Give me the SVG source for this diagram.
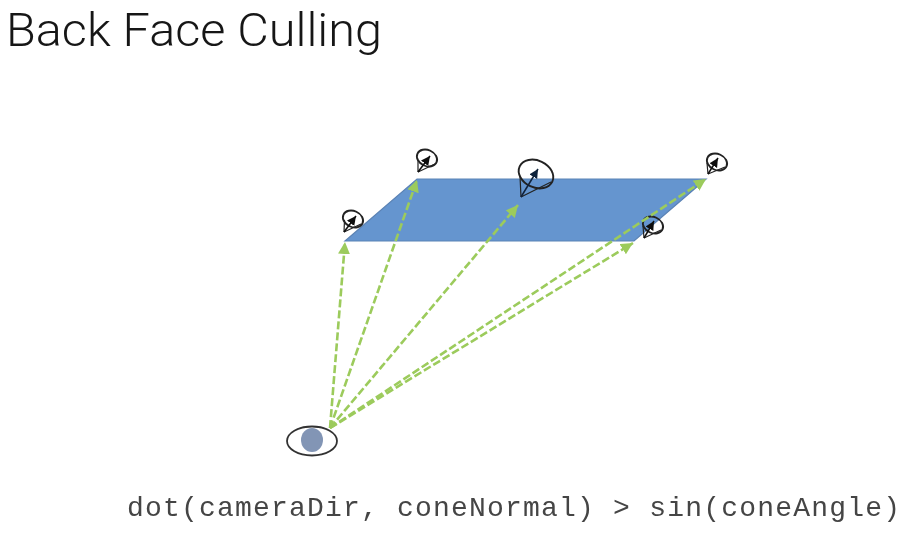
<svg xmlns="http://www.w3.org/2000/svg" width="916" height="545" viewBox="0 0 916 545">
<defs>
<filter id="soft" x="-5%" y="-5%" width="110%" height="110%"><feGaussianBlur stdDeviation="0.55"/></filter>
<marker id="g" markerUnits="userSpaceOnUse" markerWidth="14" markerHeight="14" refX="12" refY="6" orient="auto"><path d="M0 0L12 6L0 12Z" fill="#9ccb5c"/></marker>
<marker id="k" markerUnits="userSpaceOnUse" markerWidth="11" markerHeight="11" refX="9" refY="4.500" orient="auto"><path d="M0 0L9 4.500L0 9Z" fill="#111"/></marker>
<marker id="kb" markerUnits="userSpaceOnUse" markerWidth="10" markerHeight="10" refX="9" refY="4.500" orient="auto"><path d="M0 0L9 4.500L0 9Z" fill="#10203a"/></marker>
</defs>
<style>
.ray{fill:none;stroke:#9ccb5c;stroke-width:2.6;stroke-dasharray:8 3;marker-end:url(#g)}
.c{fill:none;stroke:#222;stroke-width:1.2}
.e{fill:none;stroke:#222;stroke-width:1.9}
.a{stroke:#111;stroke-width:1.5;marker-end:url(#k)}
</style>
<rect width="916" height="545" fill="#fff"/>
<g filter="url(#soft)">
<g id="title"><text x="6" y="45.500" fill="#151515" font-family="Roboto, sans-serif" font-weight="300" font-size="46" textLength="376" lengthAdjust="spacingAndGlyphs">Back Face Culling</text></g>
<g id="plane"><path d="M345 241L417 179H706L634 241Z" fill="#6595cf" stroke="#5b83b5" stroke-width="1.2"/></g>
<g id="cone1"><ellipse cx="353" cy="219" rx="10.500" ry="8" transform="rotate(25 353 219)" class="e"/><path d="M344 232L344.500 220M344 232L361 224" class="c"/><line x1="344" y1="232" x2="356" y2="216" class="a"/></g>
<g id="cone2"><ellipse cx="427" cy="158" rx="10.500" ry="8" transform="rotate(25 427 158)" class="e"/><path d="M418 172L418 160M418 172L435 164" class="c"/><line x1="418" y1="172" x2="430" y2="156" class="a"/></g>
<g id="cone3"><ellipse cx="536" cy="174" rx="18" ry="13.500" transform="rotate(25 536 174)" class="e"/><path d="M521 197L520 176M521 197L551 182" class="c"/><line x1="521" y1="197" x2="538" y2="169" stroke="#10203a" stroke-width="1.500" marker-end="url(#kb)"/></g>
<g id="cone4"><ellipse cx="717" cy="162" rx="10.500" ry="8" transform="rotate(25 717 162)" class="e"/><path d="M708 174L707 163M708 174L725 167" class="c"/><line x1="708" y1="174" x2="718" y2="158" class="a"/></g>
<g id="cone5"><ellipse cx="653" cy="225" rx="10.500" ry="8" transform="rotate(25 653 225)" class="e"/><path d="M644 238L643 226M644 238L661 230" class="c"/><line x1="644" y1="238" x2="654" y2="221" class="a"/></g>
<g id="connectors">
<line x1="330" y1="428" x2="345" y2="242" class="ray"/>
<line x1="330" y1="428" x2="417" y2="180" class="ray"/>
<line x1="330" y1="428" x2="518" y2="205" class="ray"/>
<line x1="330" y1="428" x2="706" y2="179" class="ray"/>
<line x1="330" y1="428" x2="633" y2="243" class="ray"/>
</g>
<g id="eye"><ellipse cx="312" cy="441" rx="25" ry="14.500" fill="#fff" stroke="#333" stroke-width="1.800"/><ellipse cx="312" cy="440" rx="11" ry="12" fill="#8295b5"/></g>
<g id="formula"><text x="127" y="516" fill="#454545" font-family="'Liberation Mono', monospace" font-size="28" textLength="773" lengthAdjust="spacing">dot(cameraDir, coneNormal) &gt; sin(coneAngle)</text></g>
</g>
</svg>
